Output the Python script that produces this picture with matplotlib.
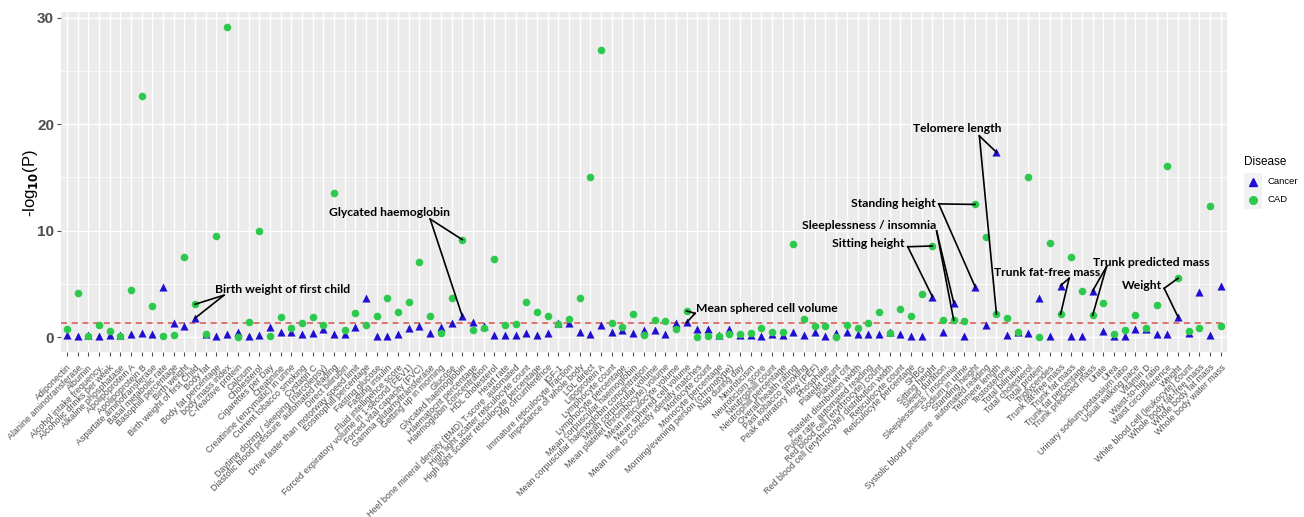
import matplotlib
matplotlib.use("Agg")
import matplotlib.pyplot as plt
from matplotlib.lines import Line2D
from matplotlib.patches import Rectangle

# traits tested, in plotting order
traits = [
    "Adiponectin", "Alanine aminotransferase", "Albumin", "Alcohol intake frequency.",
    "Alcoholic drinks per week", "Alkaline phosphatase", "Apolipoprotein A", "Apolipoprotein B",
    "Aspartate aminotransferase", "Basal metabolic rate", "Basophill percentage", "Birth weight",
    "Birth weight of first Child", "Body fat", "Body fat percentage", "body mass index",
    "C-reactive protein", "Calcium", "Cholesterol", "Cigarettes per Day", "Creatinine",
    "Creatinine (enzymatic) in urine", "Current tobacco smoking", "Cystatin C",
    "Daytime dozing / sleeping (narcolepsy)", "Diastolic blood pressure  automated reading",
    "Direct bilirubin", "Drive faster than motorway speed limit", "Eosinophill percentage",
    "Fasting glucose", "Fasting insulin", "Fluid intelligence score",
    "Forced expiratory volume in 1-second (FEV1)", "Forced vital capacity (FVC)",
    "Gamma glutamyltransferase", "Getting up in morning", "Glucose", "Glycated haemoglobin",
    "Haematocrit percentage", "Haemoglobin concentration", "HDL cholesterol", "Heart rate",
    "Heel bone mineral density (BMD) T-score  automated", "High light scatter reticulocyte count",
    "High light scatter reticulocyte percentage", "Hip circumference", "IGF-1",
    "Immature reticulocyte fraction", "Impedance of whole body", "LDL direct", "Lipoprotein A",
    "Lymphocyte count", "Lymphocyte percentage", "Mean corpuscular haemoglobin",
    "Mean corpuscular haemoglobin concentration", "Mean corpuscular volume",
    "Mean platelet (thrombocyte) volume", "Mean reticulocyte volume", "Mean sphered cell volume",
    "Mean time to correctly identify matches", "Monocyte count", "Monocyte percentage",
    "Morning/evening person (chronotype)", "Nap during day", "Neuroticism", "Neuroticism score",
    "Neutrophill count", "Neutrophill percentage", "Overall health rating", "Past tobacco smoking",
    "Peak expiratory flow (PEF)", "Phosphate", "Platelet count", "Platelet crit",
    "Platelet distribution width", "Pulse rate  automated reading",
    "Red blood cell (erythrocyte) count", "Red blood cell (erythrocyte) distribution width",
    "Reticulocyte count", "Reticulocyte percentage", "SHBG", "Sitting height", "Sleep duration",
    "Sleeplessness / insomnia", "Sodium in urine", "Standing height",
    "Systolic blood pressure  automated reading", "Telomere length", "Testosterone",
    "Total bilirubin", "Total cholesterol", "Total protein", "Triglycerides",
    "Trunk fat-free mass", "Trunk fat mass", "Trunk fat percentage", "Trunk predicted mass",
    "Urate", "Urea", "Urinary sodium-potassium ratio", "Usual walking pace", "Vitamin D",
    "Waist-to-hip ratio", "Waist circumference", "Weight", "White blood cell (leukocyte) count",
    "Whole body fat-free mass", "Whole body fat mass", "Whole body water mass",
]

# -log10(P) per trait
cancer = [
    0.2, 0.1, 0.2, 0.1, 0.25, 0.2, 0.35, 0.4, 0.3, 4.7,
    1.3, 1.1, 1.8, 0.35, 0.15, 0.35, 0.5, 0.15, 0.2, 1.0,
    0.53, 0.53, 0.28, 0.4, 0.75, 0.28, 0.28, 1.0, 3.72, 0.15,
    0.15, 0.28, 0.87, 1.09, 0.37, 1.0, 1.3, 2.0, 1.44, 1.09,
    0.22, 0.22, 0.22, 0.44, 0.22, 0.37, 1.37, 1.37, 0.53, 0.31,
    1.15, 0.53, 0.69, 0.37, 0.69, 0.69, 0.31, 1.3, 1.4, 0.78,
    0.75, 0.2, 0.75, 0.25, 0.2, 0.15, 0.3, 0.2, 0.46, 0.2,
    0.46, 0.1, 0.4, 0.46, 0.3, 0.3, 0.3, 0.46, 0.3, 0.1,
    0.1, 3.82, 0.46, 3.25, 0.1, 4.75, 1.15, 17.37, 0.2, 0.47,
    0.44, 3.72, 0.1, 4.85, 0.1, 0.1, 4.35, 0.59, 0.11, 0.15,
    0.75, 0.75, 0.27, 0.27, 1.9, 0.44, 4.29, 0.22, 4.85,
]
cad = [
    0.75, 4.2, 0.1, 1.15, 0.6, 0.15, 4.4, 22.6, 2.95, 0.1,
    0.2, 7.5, 3.1, 0.35, 9.5, 29.1, 0.05, 1.4, 10.0, 0.12,
    1.88, 0.9, 1.34, 1.88, 1.18, 13.55, 0.66, 2.25, 1.12, 1.97,
    3.72, 2.35, 3.3, 7.07, 2.0, 0.44, 3.72, 9.17, 0.66, 0.84,
    7.32, 1.12, 1.22, 3.3, 2.35, 2.0, 1.25, 1.69, 3.72, 15.08,
    27.0, 1.34, 1.0, 2.16, 0.19, 1.63, 1.56, 0.78, 2.47, 0.06,
    0.15, 0.1, 0.3, 0.35, 0.4, 0.85, 0.5, 0.47, 8.76, 1.75,
    1.06, 1.06, 0.07, 1.15, 0.84, 1.31, 2.34, 0.4, 2.66, 2.0,
    4.04, 8.57, 1.62, 1.62, 1.53, 12.47, 9.45, 2.19, 1.78, 0.47,
    15.08, 0.06, 8.88, 2.16, 7.54, 4.38, 2.06, 3.19, 0.27, 0.69,
    2.09, 0.92, 3.0, 16.1, 5.54, 0.57, 0.9, 12.3, 1.1,
]
threshold = 1.3

# labelled traits: trait, label text, text centre (x, y), elbow point (x, y)
labels = [
    ("Birth weight of first Child", "Birth weight of first child", 20.2, 4.45, 14.7, 3.95),
    ("Glycated haemoglobin", "Glycated haemoglobin", 30.2, 11.75, 34.0, 11.1),
    ("Mean sphered cell volume", "Mean sphered cell volume", 65.5, 2.66, 58.8, 2.25),
    ("Telomere length", "Telomere length", 83.3, 19.55, 85.4, 18.9),
    ("Standing height", "Standing height", 77.4, 12.52, 81.6, 12.52),
    ("Sleeplessness / insomnia", "Sleeplessness / insomnia", 75.1, 10.45, 81.4, 9.98),
    ("Sitting height", "Sitting height", 75.0, 8.76, 78.7, 8.5),
    ("Trunk fat-free mass", "Trunk fat-free mass", 91.7, 6.07, 93.8, 5.54),
    ("Trunk predicted mass", "Trunk predicted mass", 101.5, 7.04, 97.3, 6.63),
    ("Weight", "Weight", 100.6, 4.85, 102.7, 4.6),
]

W, H = 1304, 517
plt.rcParams['font.family'] = ['Liberation Sans', 'DejaVu Sans']
fig = plt.figure(figsize=(W / 100, H / 100), dpi=100)

def fx(px):
    return px / W

def fy(py):
    return 1 - py / H

ax = fig.add_axes([fx(61), fy(351.7), fx(1226.7) - fx(61), fy(12.3) - fy(351.7)])
ax.set_facecolor('#EBEBEB')
for s in ax.spines.values():
    s.set_visible(False)

x = list(range(len(traits)))
ax.set_xlim(-0.55, len(traits) - 0.45)
ax.set_ylim(-1.35, 30.5)

ax.set_xticks(x)
ax.set_xticklabels(traits, rotation=45, ha='right', va='top', rotation_mode='anchor',
                   fontsize=6.4, color='#4D4D4D')
ax.set_yticks([0, 10, 20, 30])
ax.set_yticklabels(['0', '10', '20', '30'], fontsize=11, fontweight='bold', color='#4D4D4D')
ax.set_yticks([5, 15, 25], minor=True)
ax.tick_params(axis='both', which='major', length=3, color='#4D4D4D', pad=2)
ax.tick_params(axis='x', which='major', pad=5)
ax.tick_params(axis='y', which='minor', length=0)

ax.grid(True, which='major', color='white', linewidth=1.0)
ax.grid(True, which='minor', axis='y', color='white', linewidth=0.5)
ax.set_axisbelow(True)

ax.axhline(threshold, color='#D9534F', linestyle=(0, (4, 3)), linewidth=1.1, zorder=2)

blue = '#1F0FD0'
green = '#2DC94C'
ax.scatter(x, cancer, marker='^', s=34, color=blue, linewidths=0, zorder=3)
ax.scatter(x, cad, marker='o', s=30, color=green, linewidths=0, zorder=4)

for key, text, tx, ty, ex, ey in labels:
    i = traits.index(key)
    for yv in (cad[i], cancer[i]):
        ax.plot([ex, i], [ey, yv], color='black', linewidth=1.2, zorder=5)
    ax.text(tx, ty, text, ha='center', va='center', fontsize=8.7, fontweight='bold',
            family=['Lato', 'DejaVu Sans'], color='black', zorder=6)

fig.text(fx(30), fy(183), r'-log$_{\mathbf{10}}$(P)', rotation=90, ha='center', va='center',
         fontsize=12, color='black')

# legend
fig.text(fx(1244), fy(162), 'Disease', ha='left', va='center', fontsize=8.5)
fig.add_artist(Rectangle((fx(1244), fy(209)), fx(18), fy(173) - fy(209),
                         transform=fig.transFigure, facecolor='#F2F2F2', edgecolor='none'))
fig.add_artist(Line2D([fx(1253)], [fy(182)], marker='^', markersize=6, color=blue,
                      linestyle='none', transform=fig.transFigure))
fig.add_artist(Line2D([fx(1253)], [fy(200)], marker='o', markersize=5.5, color=green,
                      linestyle='none', transform=fig.transFigure))
fig.text(fx(1267), fy(182), 'Cancer', ha='left', va='center', fontsize=6.8)
fig.text(fx(1267), fy(200), 'CAD', ha='left', va='center', fontsize=6.8)

fig.savefig('out.png', dpi=100)
